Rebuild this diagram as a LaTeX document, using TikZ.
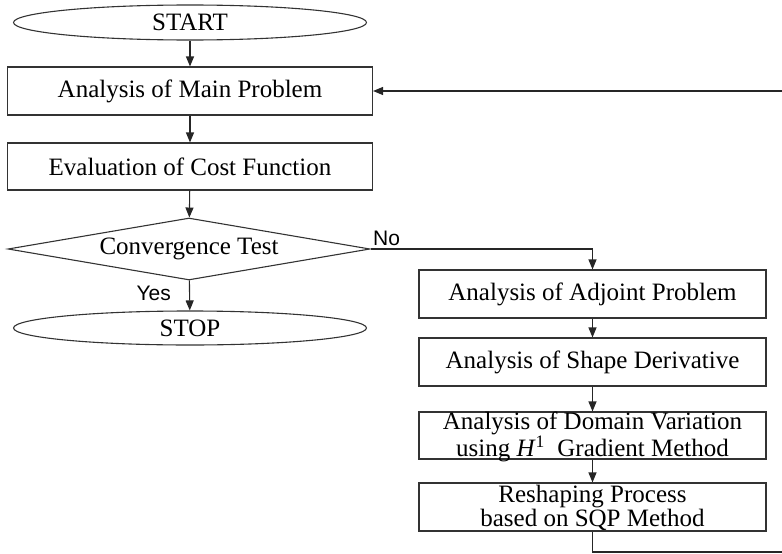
\documentclass[tikz,border=0pt]{standalone}
\usepackage{fontspec}
\setmainfont{Liberation Serif}
\newfontfamily\labelfont{Liberation Sans}
\usetikzlibrary{shapes.geometric,arrows.meta}

\tikzset{
  every picture/.style={x=1pt,y=-1pt},
  flowline/.style={line width=1.1pt,draw=black!85},
  flowarrow/.style={flowline,-{Triangle[length=10pt,width=8pt]}},
  boxfont/.style={font=\fontsize{25}{20}\selectfont},
  procbox/.style={draw=black!80,line width=1.1pt,rectangle,inner sep=0pt,
    boxfont,align=center},
  terminal/.style={draw=black!80,line width=1.1pt,ellipse,inner sep=0pt,
    minimum width=353pt,minimum height=35pt,boxfont},
  decision/.style={draw=black!80,line width=1.1pt,diamond,inner sep=0pt,aspect=5.8,
    minimum width=362pt,minimum height=62pt,boxfont},
  leftbox/.style={procbox,minimum width=365pt,minimum height=48pt},
  rightbox/.style={procbox,minimum width=347pt,minimum height=48pt},
  % two-line caption set slightly below the box centre
  twoline/.style={label={[boxfont,align=center,inner sep=0pt,yshift=-1.2pt]center:#1}},
  answer/.style={inner sep=0pt,font=\labelfont\fontsize{21}{22}\selectfont}
}

\begin{document}
\begin{tikzpicture}
  \useasboundingbox (0,0) rectangle (782,554);

  % main column
  \node[terminal] (start) at (190,22.5) {START};
  \node[leftbox] (mainp) at (190,91) {Analysis of Main Problem};
  \node[leftbox,minimum height=47pt] (cost) at (190,166.5) {Evaluation of Cost Function};
  \node[decision] (conv) at (189,249) {Convergence Test};
  \node[terminal,minimum height=34pt] (stop) at (190,328) {STOP};

  % update column
  \node[rightbox] (adj) at (592.5,294) {Analysis of Adjoint Problem};
  \node[rightbox] (shape) at (592.5,362) {Analysis of Shape Derivative};
  \node[rightbox,minimum height=47pt,
        twoline={Analysis of Domain Variation\\ using \textit{H}\textsuperscript{1}\ \ Gradient Method}]
        (domain) at (592.5,435.5) {};
  \node[rightbox,twoline={Reshaping Process\\ based on SQP Method}]
        (reshape) at (592.5,507) {};

  % bends of the branch and the feedback loop
  \coordinate (nobend) at (592.5,249);
  \coordinate (loopdown) at (592.5,552);
  \coordinate (loopcorner) at (783,552);
  \coordinate (looptop) at (783,91);

  % connectors
  \draw[flowarrow] (start) -- (mainp);
  \draw[flowarrow] (mainp) -- (cost);
  \draw[flowarrow] (cost) -- (conv);
  \draw[flowarrow] (conv) -- (stop);
  \draw[flowarrow] (conv.east) -- (nobend) -- (adj.north);
  \draw[flowarrow] (adj) -- (shape);
  \draw[flowarrow] (shape) -- (domain);
  \draw[flowarrow] (domain) -- (reshape);
  \draw[flowarrow] (reshape.south) -- (loopdown) -- (loopcorner) -- (looptop) -- (mainp.east);

  % branch labels
  \node[answer,anchor=base west] (nolabel) at (373,245) {No};
  \node[answer,anchor=base east] (yeslabel) at (171,300) {Yes};
\end{tikzpicture}
\end{document}
